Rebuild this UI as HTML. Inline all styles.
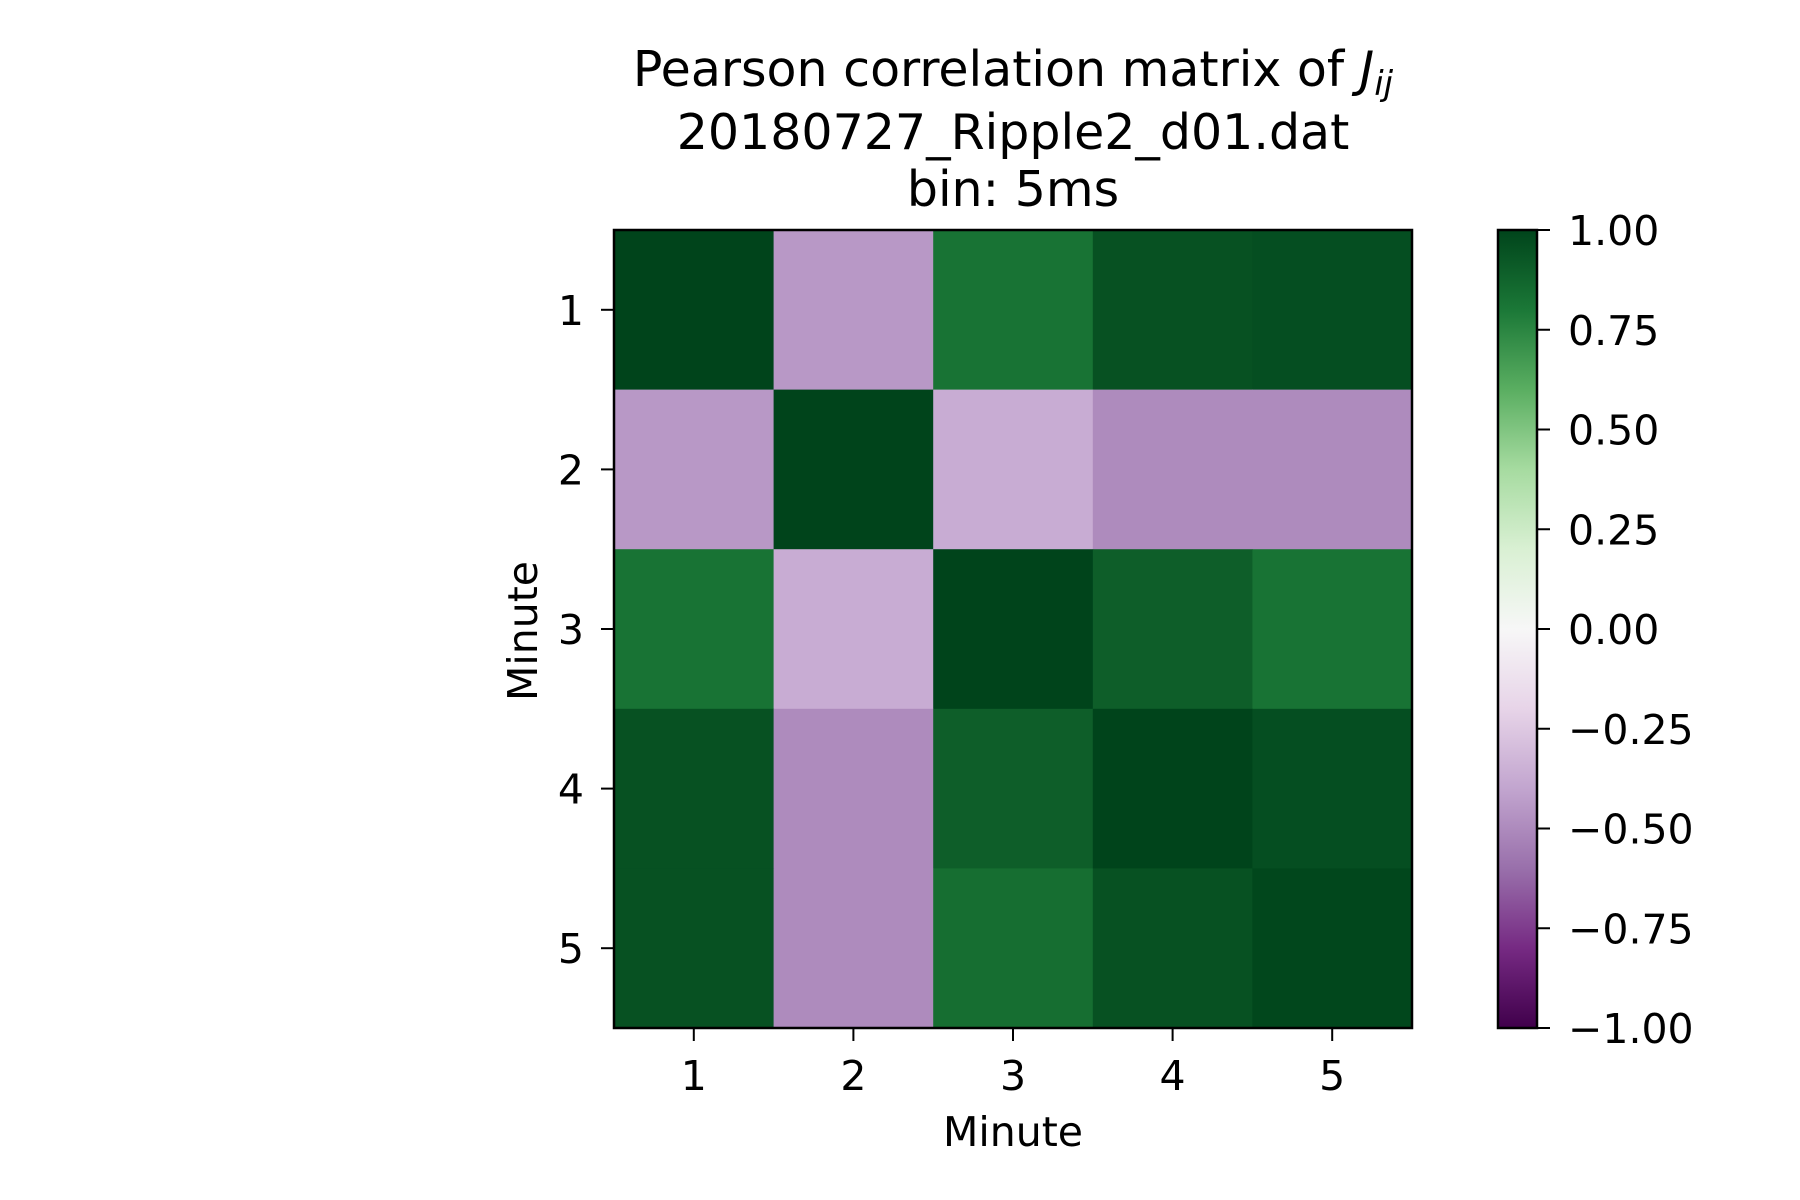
<!DOCTYPE html>
<html><head><meta charset="utf-8"><style>
html,body{margin:0;padding:0;background:#fff;}
svg{display:block;font-family:"DejaVu Sans","Liberation Sans",sans-serif;}
</style></head><body>
<svg id="chart" width="1800" height="1200" viewBox="0 0 1800 1200" xmlns="http://www.w3.org/2000/svg">
<defs>
<linearGradient id="cbgrad" x1="0" y1="1" x2="0" y2="0"></linearGradient>
</defs>
<g font-size="49" text-anchor="middle" fill="#000">
<text x="1013" y="86">Pearson correlation matrix of <tspan font-style="italic">J</tspan><tspan font-style="italic" font-size="34" dy="9">ij</tspan></text>
<text x="1013" y="149">20180727_Ripple2_d01.dat</text>
<text x="1013" y="206">bin: 5ms</text>
</g>
<g id="cells"></g>
<rect x="614" y="230" width="798" height="798" fill="none" stroke="#000" stroke-width="2.5"/>
<g id="xticks" font-size="41" fill="#000"></g>
<g id="yticks" font-size="41" fill="#000"></g>
<text x="1013" y="1146" font-size="41" text-anchor="middle">Minute</text>
<text transform="translate(537,631) rotate(-90)" font-size="41" text-anchor="middle">Minute</text>
<rect x="1498" y="230" width="39" height="798" fill="url(#cbgrad)"/>
<rect x="1498" y="230" width="39" height="798" fill="none" stroke="#000" stroke-width="2.5"/>
<g id="cbticks" font-size="41" fill="#000"></g>
</svg>
<script>
const categories = [1, 2, 3, 4, 5];
const row1 = [1.00, -0.45, 0.82, 0.95, 0.96];
const row2 = [-0.45, 1.00, -0.37, -0.50, -0.50];
const row3 = [0.82, -0.37, 1.00, 0.90, 0.82];
const row4 = [0.95, -0.50, 0.90, 1.00, 0.96];
const row5 = [0.95, -0.50, 0.84, 0.95, 0.99];
const matrix = [row1, row2, row3, row4, row5];
const cbTicks = [1.00, 0.75, 0.50, 0.25, 0.00, -0.25, -0.50, -0.75, -1.00];
const cbLabels = ["1.00", "0.75", "0.50", "0.25", "0.00", "\u22120.25", "\u22120.50", "\u22120.75", "\u22121.00"];

const NS = "http://www.w3.org/2000/svg";
const stops = ["#40004b","#762a83","#9970ab","#c2a5cf","#e7d4e8","#f7f7f7","#d9f0d3","#a6dba0","#5aae61","#1b7837","#00441b"];
function hex(c){return [1,3,5].map(i=>parseInt(c.substr(i,2),16));}
function cmap(v){
  let t=(Math.max(-1,Math.min(1,v))+1)/2*10;
  let i=Math.min(9,Math.floor(t)), f=t-i;
  const a=hex(stops[i]), b=hex(stops[i+1]);
  return "rgb("+a.map((x,k)=>Math.round(x+(b[k]-x)*f)).join(",")+")";
}
const X0=614, Y0=230, W=798, H=798, n=categories.length;
const cw=W/n, ch=H/n;
const xPos = i => X0 + i*cw;
const yPos = i => Y0 + i*ch;
const cbY = v => 230 + (1 - (v+1)/2) * 798;

const cells=document.getElementById("cells");
matrix.forEach((row,r)=>row.forEach((v,c)=>{
  const el=document.createElementNS(NS,"rect");
  el.setAttribute("x",xPos(c)); el.setAttribute("y",yPos(r));
  el.setAttribute("width",cw+0.5); el.setAttribute("height",ch+0.5);
  el.setAttribute("fill",cmap(v));
  
  
  cells.appendChild(el);
}));

const xt=document.getElementById("xticks"), yt=document.getElementById("yticks");
categories.forEach((cat,i)=>{
  const cx=xPos(i)+cw/2, cy=yPos(i)+ch/2;
  const l1=document.createElementNS(NS,"line");
  l1.setAttribute("x1",cx);l1.setAttribute("x2",cx);l1.setAttribute("y1",1028);l1.setAttribute("y2",1041);
  l1.setAttribute("stroke","#000");l1.setAttribute("stroke-width","2");
  
  
  xt.appendChild(l1);
  const t1=document.createElementNS(NS,"text");
  t1.setAttribute("x",cx);t1.setAttribute("y",1090);t1.setAttribute("text-anchor","middle");
  t1.textContent=cat;
  
  
  xt.appendChild(t1);
  const l2=document.createElementNS(NS,"line");
  l2.setAttribute("x1",601);l2.setAttribute("x2",614);l2.setAttribute("y1",cy);l2.setAttribute("y2",cy);
  l2.setAttribute("stroke","#000");l2.setAttribute("stroke-width","2");
  
  
  yt.appendChild(l2);
  const t2=document.createElementNS(NS,"text");
  t2.setAttribute("x",584);t2.setAttribute("y",cy+15);t2.setAttribute("text-anchor","end");
  t2.textContent=cat;
  
  
  yt.appendChild(t2);
});

const grad=document.getElementById("cbgrad");
stops.forEach((c,i)=>{
  const s=document.createElementNS(NS,"stop");
  s.setAttribute("offset",(i/10));s.setAttribute("stop-color",c);
  grad.appendChild(s);
});
const cb=document.getElementById("cbticks");
cbTicks.forEach((v,i)=>{
  const y=cbY(v);
  const l=document.createElementNS(NS,"line");
  l.setAttribute("x1",1537);l.setAttribute("x2",1550);l.setAttribute("y1",y);l.setAttribute("y2",y);
  l.setAttribute("stroke","#000");l.setAttribute("stroke-width","2");
  
  
  cb.appendChild(l);
  const t=document.createElementNS(NS,"text");
  t.setAttribute("x",1568);t.setAttribute("y",y+15);
  t.textContent=cbLabels[i];
  
  
  cb.appendChild(t);
});
</script>
</body></html>
